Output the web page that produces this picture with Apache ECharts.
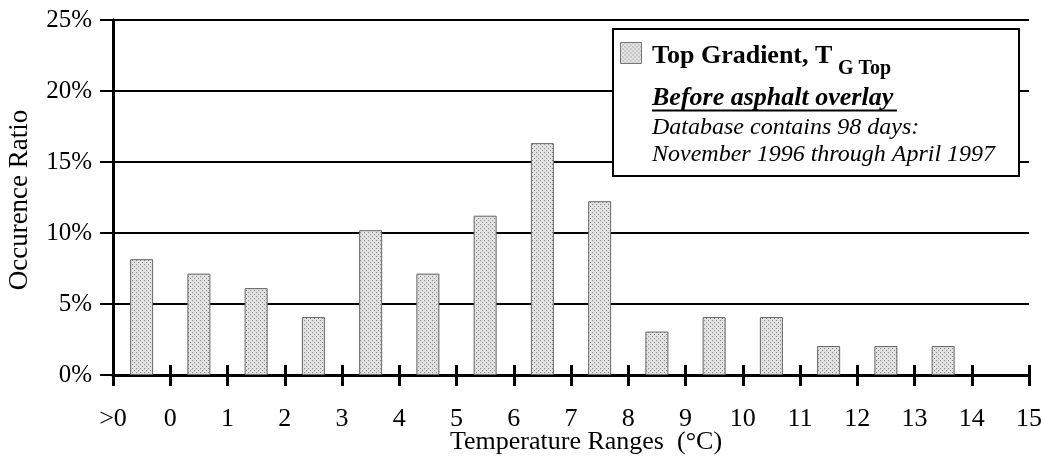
<!DOCTYPE html>
<html><head><meta charset="utf-8">
<script src="https://cdn.jsdelivr.net/npm/echarts@6/dist/echarts.min.js"></script>
<style>html,body{margin:0;padding:0;background:#fff}#c{width:1043px;height:458px}</style>
</head><body><div id="c"></div>
<script>
const tickLabels = ['>0','0','1','2','3','4','5','6','7','8','9','10','11','12','13','14','15'];
const binCenters = [0.5,1.5,2.5,3.5,4.5,5.5,6.5,7.5,8.5,9.5,10.5,11.5,12.5,13.5,14.5];
const occurrence = [8.16,7.14,6.12,4.08,10.20,7.14,11.22,16.33,12.24,3.06,4.08,4.08,2.04,2.04,2.04];
const yTicks = [0,5,10,15,20,25];

const F = '"Liberation Serif","Times New Roman",serif';
function makePattern(){
  const c = document.createElement('canvas'); c.width = 4; c.height = 4;
  const g = c.getContext('2d');
  g.fillStyle = '#e2e2e2'; g.fillRect(0,0,4,4);
  g.fillStyle = '#808080'; g.fillRect(0,0,1,1); g.fillRect(2,2,1,1);
  return c;
}
const pat = makePattern();
const chart = echarts.init(document.getElementById('c'), null, {renderer:'canvas'});
const xBase = {type:'value', min:0, max:16, interval:1, position:'bottom'};
chart.setOption({
  animation:false,
  backgroundColor:'#fff',
  grid:{left:113, right:14, top:20, bottom:83, containLabel:false, outerBoundsMode:'none'},
  xAxis:[
    Object.assign({}, xBase, {
      axisLine:{show:true, lineStyle:{color:'#000', width:3}},
      axisTick:{show:true, length:11, lineStyle:{color:'#000', width:3}},
      axisLabel:{show:true, margin:31, color:'#000', fontFamily:F, fontSize:26,
        formatter:v=>tickLabels[Math.round(v)]},
      splitLine:{show:false},
      name:'Temperature Ranges  (°C)', nameLocation:'middle', nameGap:54, nameMoveOverlap:false,
      nameTextStyle:{color:'#000', fontFamily:F, fontSize:26, padding:[0,0,0,30]}
    }),
    Object.assign({}, xBase, {
      axisLine:{show:false},
      axisTick:{show:true, inside:true, length:10, lineStyle:{color:'#000', width:3}},
      axisLabel:{show:false}, splitLine:{show:false}
    })
  ],
  yAxis:[
    {type:'value', min:0, max:25, interval:5, position:'left',
     axisLine:{show:true, lineStyle:{color:'#000', width:3}},
     axisTick:{show:true, length:13, lineStyle:{color:'#000', width:2}},
     axisLabel:{margin:21, color:'#000', fontFamily:F, fontSize:25,
       formatter:v=>(yTicks.includes(v)?v+'%':'')},
     splitLine:{show:true, lineStyle:{color:'#000', width:2}},
     name:'Occurence Ratio', nameLocation:'middle', nameGap:80, nameRotate:90, nameMoveOverlap:false,
     nameTextStyle:{color:'#000', fontFamily:F, fontSize:27, padding:[0,5,0,0]}},
    {type:'value', min:0, max:25, interval:5, position:'right',
     axisLine:{show:true, lineStyle:{color:'#000', width:3}},
     axisTick:{show:false}, axisLabel:{show:false}, splitLine:{show:false}}
  ],
  series:[{
    type:'bar', xAxisIndex:0, yAxisIndex:0, barWidth:23,
    data: binCenters.map((x,i)=>[x, occurrence[i]]),
    itemStyle:{color:{image:pat, repeat:'repeat'}, borderColor:'#666', borderWidth:1}
  }],
  graphic:[
    {type:'rect', left:612, top:28, z:100, shape:{width:406, height:147},
     style:{fill:'#fff', stroke:'#000', lineWidth:2}},
    {type:'rect', left:620, top:42, z:101, shape:{width:21, height:21},
     style:{fill:{image:pat, repeat:'repeat'}, stroke:'#777', lineWidth:1}},
    {type:'text', left:652, top:43, z:101,
     style:{text:'Top Gradient, T', fill:'#000', font:'bold 26px '+F}},
    {type:'text', left:838, top:59, z:101,
     style:{text:'G Top', fill:'#000', font:'bold 20px '+F}},
    {type:'text', left:652, top:85, z:101,
     style:{text:'Before asphalt overlay', fill:'#000', font:'italic bold 26px '+F}},
    {type:'line', z:101, shape:{x1:652, y1:110.5, x2:897, y2:110.5},
     style:{stroke:'#000', lineWidth:2}},
    {type:'text', left:652, top:116, z:101,
     style:{text:'Database contains 98 days:', fill:'#000', font:'italic 24px '+F}},
    {type:'text', left:652, top:143, z:101,
     style:{text:'November 1996 through April 1997', fill:'#000', font:'italic 24px '+F}}
  ]
});
</script></body></html>
